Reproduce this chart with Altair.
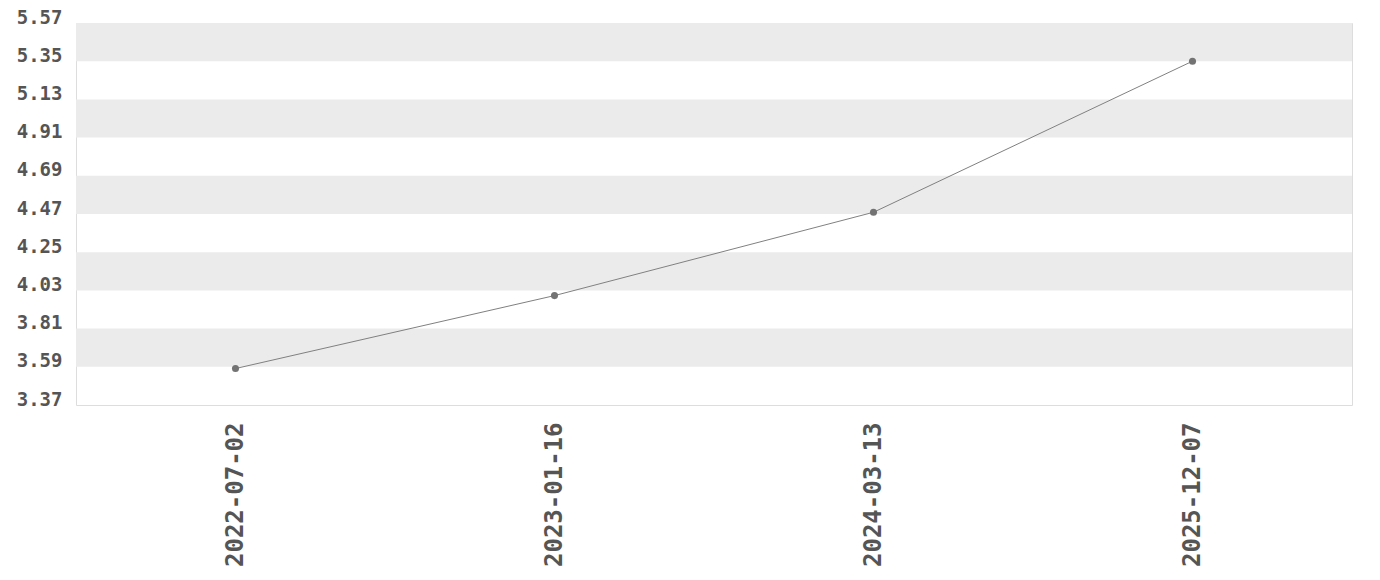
import altair as alt
import pandas as pd

dates = ["2022-07-02", "2023-01-16", "2024-03-13", "2025-12-07"]
values = [3.58, 4.00, 4.48, 5.35]
y_ticks = [3.37, 3.59, 3.81, 4.03, 4.25, 4.47, 4.69, 4.91, 5.13, 5.35, 5.57]

df = pd.DataFrame({"date": dates, "value": values})
bands = pd.DataFrame({
    "y0": [y_ticks[i] for i in range(1, len(y_ticks) - 1, 2)],
    "y1": [y_ticks[i + 1] for i in range(1, len(y_ticks) - 1, 2)],
})

FONT = "DejaVu Sans Mono"
yscale = alt.Scale(domain=[3.37, 5.57], nice=False, zero=False)
yaxis = alt.Axis(values=y_ticks, format=".2f", title=None, grid=False,
                 domain=False, ticks=False, labelPadding=14,
                 labelOverlap=False, labelBaseline="alphabetic",
                 labelFont=FONT, labelFontSize=19, labelFontWeight="bold",
                 labelColor="#555555")

band_layer = alt.Chart(bands).mark_rect(color="#ebebeb").encode(
    y=alt.Y("y0:Q", scale=yscale, axis=yaxis),
    y2="y1:Q",
    x=alt.value(0),
    x2=alt.value(1276),
)

xenc = alt.X("date:O", sort=dates, scale=alt.Scale(type="point", padding=0.5),
             axis=alt.Axis(title=None, labelAngle=-90, domain=False, ticks=False,
                           grid=False, labelPadding=17, labelFont=FONT,
                           labelOverlap=False,
                           labelFontSize=24, labelFontWeight="bold",
                           labelColor="#555555"))

line = alt.Chart(df).mark_line(color="#808080", strokeWidth=1).encode(
    x=xenc, y=alt.Y("value:Q", scale=yscale, axis=yaxis))
pts = alt.Chart(df).mark_point(filled=True, color="#737373", size=50, opacity=1).encode(
    x=xenc, y=alt.Y("value:Q", scale=yscale, axis=yaxis))

chart = alt.layer(band_layer, line, pts).properties(
    width=1276, height=382,
    autosize=alt.AutoSizeParams(type="none"),
    padding={"left": 68, "top": 15, "right": 20, "bottom": 172},
).configure_view(stroke="#dddddd", strokeWidth=1).configure_axisY(labelOverlap=False)

chart.save("out.html", embed_options={"renderer": "svg", "actions": False})
